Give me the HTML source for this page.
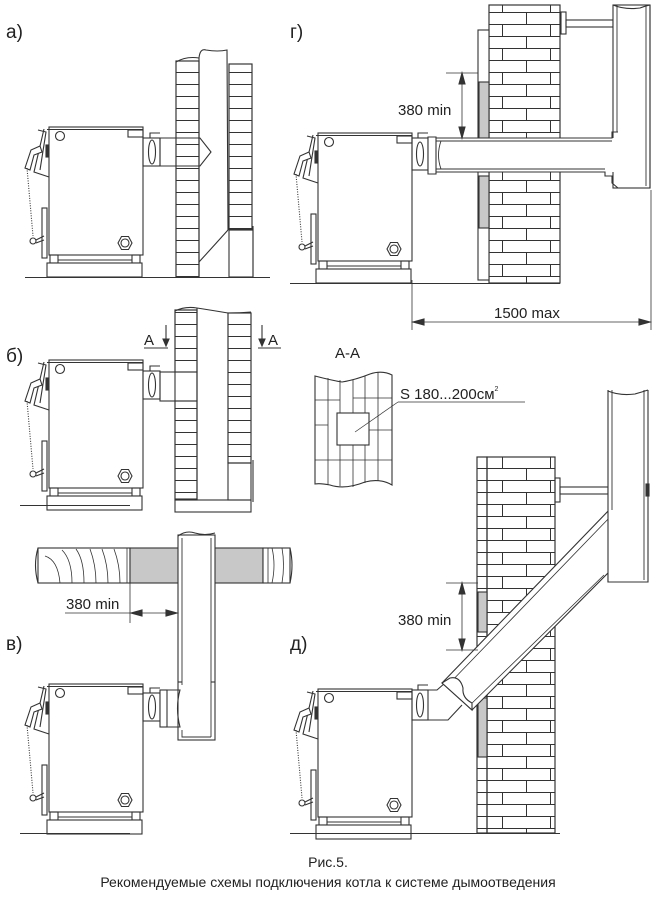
<!DOCTYPE html>
<html><head><meta charset="utf-8"><style>
html,body{margin:0;padding:0;background:#fff}
svg{display:block}
text{font-family:"Liberation Sans",Arial,sans-serif;fill:#222}
</style></head><body>
<svg width="656" height="900" viewBox="0 0 656 900" xmlns="http://www.w3.org/2000/svg">
<defs>
<pattern id="hb" x="0" y="0" width="30" height="12" patternUnits="userSpaceOnUse">
<line x1="0" y1="0.5" x2="30" y2="0.5" stroke="#333" stroke-width="1"/>
</pattern>
<pattern id="wb" x="0" y="0" width="48" height="24" patternUnits="userSpaceOnUse">
<line x1="0" y1="0.5" x2="48" y2="0.5" stroke="#333"/>
<line x1="0" y1="12.5" x2="48" y2="12.5" stroke="#333"/>
<line x1="22.5" y1="0" x2="22.5" y2="12" stroke="#333"/>
<line x1="46.5" y1="12" x2="46.5" y2="24" stroke="#333"/>
</pattern>
<g id="boiler" fill="none" stroke="#333" stroke-width="1.1">
<rect x="49" y="127" width="94" height="128" fill="#fff"/>
<line x1="47" y1="129.5" x2="143" y2="129.5"/>
<rect x="128" y="130" width="15" height="7"/>
<circle cx="60" cy="136" r="4.5"/>
<path d="M44 129 L34 172 L49 177"/>
<path d="M38 130 L46 132 L40 170"/>
<path d="M25 168 L31 150 L40 146 L42 152 L34 155 L30 170 Z" fill="#fff"/>
<rect x="46" y="145" width="2.5" height="12" fill="#333"/>
<line x1="27" y1="168" x2="33" y2="236" stroke-dasharray="1,1.5"/>
<rect x="42" y="208" width="5" height="50"/>
<circle cx="33" cy="241" r="3"/>
<path d="M36 240 L44 236 M36 243 L44 240"/>
<polygon points="118,243 121.5,236.5 128.5,236.5 132,243 128.5,249.5 121.5,249.5"/>
<circle cx="125" cy="243" r="4"/>
<rect x="50" y="255" width="8" height="8"/>
<rect x="132" y="255" width="8" height="8"/>
<line x1="58" y1="260" x2="132" y2="260"/>
<rect x="47" y="263" width="95" height="14" fill="#fff"/>
</g>
<g id="conn" fill="none" stroke="#333" stroke-width="1.1">
<rect x="143" y="138" width="17" height="28"/>
<ellipse cx="152" cy="152" rx="3.5" ry="12"/>
<path d="M150 138 L150 133 L160 133"/>
</g>
</defs>

<g fill="none" stroke="#333" stroke-width="1.1">
<!-- ===== a ===== -->
<use href="#boiler"/>
<line x1="25" y1="277.5" x2="270" y2="277.5"/>
<use href="#conn"/>
<path d="M160 138 L200 138 L211 152 L200 166 L160 166 Z"/>
<line x1="199" y1="140" x2="199" y2="164" stroke-width="0.6"/>
<rect x="176" y="61" width="23" height="216" fill="url(#hb)"/>
<rect x="176" y="61" width="23" height="216"/>
<path d="M176 62 Q186 56 199 58"/>
<path d="M199 58 L199 262 Q210 250 228 230"/>
<path d="M199 58 Q200 48 206 50 Q218 52 227 50 L228 230"/>
<rect x="229" y="64" width="23" height="166" fill="url(#hb)"/>
<rect x="229" y="64" width="23" height="166"/>
<rect x="229" y="229" width="24" height="48"/>
<line x1="253" y1="226" x2="253" y2="277"/>
<path d="M199 262 L199 277"/>

<!-- ===== б ===== -->
<g transform="translate(0,233)"><use href="#boiler"/><use href="#conn"/></g>
<line x1="20" y1="505.5" x2="130" y2="505.5"/>
<rect x="160" y="372" width="37" height="29"/>
<rect x="175" y="310" width="22" height="62" fill="url(#hb)"/>
<rect x="175" y="401" width="22" height="98" fill="url(#hb)"/>
<rect x="175" y="310" width="22" height="190"/>
<path d="M175 311 Q185 306 197 308 Q210 310 228 313 Q240 313 251 312"/>
<line x1="197" y1="308" x2="197" y2="500"/>
<rect x="228" y="313" width="23" height="150" fill="url(#hb)"/>
<rect x="228" y="313" width="23" height="150"/>
<rect x="228" y="463" width="23" height="37"/>
<line x1="253" y1="460" x2="253" y2="502"/>
<rect x="175" y="500" width="76" height="12"/>
<text x="144" y="345" font-size="15" stroke="none">A</text>
<line x1="144" y1="348" x2="168" y2="348"/>
<line x1="166" y1="325" x2="166" y2="345"/>
<polygon points="163,339 169,339 166,346" fill="#333"/>
<text x="268" y="345" font-size="15" stroke="none">A</text>
<line x1="258" y1="348" x2="281" y2="348"/>
<line x1="262" y1="325" x2="262" y2="345"/>
<polygon points="259,339 265,339 262,346" fill="#333"/>

<!-- A-A -->
<text x="335" y="358" font-size="15" stroke="none">A-A</text>
<path d="M315 376 Q330 380 342 382 Q355 380 370 374 Q382 370 392 375 L392 485 Q380 478 365 482 Q345 490 330 485 Q320 483 315 484 Z" fill="#fff"/>
<path d="M328 378 V485 M340 380 V486 M353 380 V487 M365 376 V483 M378 372 V481" stroke-width="0.8"/>
<path d="M315 400 H340 M353 398 H392 M315 425 H328 M365 430 H392 M315 460 H392 M340 440 H365" stroke-width="0.8"/>
<rect x="337" y="413" width="32" height="32" fill="#fff"/>
<line x1="355" y1="432" x2="398" y2="402" stroke-width="0.7"/>
<line x1="398" y1="402" x2="525" y2="402" stroke-width="0.7"/>
<text x="400" y="399" font-size="15" stroke="none">S 180...200см<tspan font-size="7" dy="-8">2</tspan></text>

<!-- ===== в ===== -->
<g transform="translate(0,557)"><use href="#boiler"/></g>
<line x1="20" y1="833.5" x2="130" y2="833.5"/>
<g transform="translate(0,555)"><use href="#conn"/></g>
<rect x="38" y="548" width="92" height="35" fill="#fff"/>
<path d="M38 548 Q33 565 38 583"/>
<path d="M60 583 Q58 560 45 556 M72 583 Q72 560 62 550 M84 583 Q84 560 76 549 M96 583 Q96 565 90 549 M108 583 Q108 565 102 549 M120 583 Q120 565 114 549 M127 583 V548" stroke-width="0.8"/>
<rect x="130" y="548" width="133" height="35" fill="#c8c8c8"/>
<rect x="263" y="548" width="27" height="35" fill="#fff"/>
<path d="M272 548 Q276 565 272 583 M282 548 Q285 565 282 583 M268 548 V583" stroke-width="0.8"/>
<path d="M290 548 Q294 565 290 583"/>
<rect x="178" y="535" width="37" height="205" fill="#fff"/>
<path d="M182 538 V685 M211 538 V737 M182 730 V737 L211 737" stroke-width="0.9"/>
<path d="M178 536 Q186 530 195 533 Q205 536 215 533"/>
<line x1="178" y1="682" x2="182" y2="682"/>
<line x1="211" y1="682" x2="215" y2="682"/>
<rect x="160" y="690" width="7" height="37" fill="#fff"/>
<path d="M167 690 L180 690 Q175 708 180 727 L167 727"/>
<line x1="130" y1="583" x2="130" y2="623" stroke-width="0.8"/>
<line x1="65" y1="613" x2="177" y2="613" stroke-width="0.8"/>
<polygon points="131,613 142,610 142,616" fill="#333"/>
<polygon points="177,613 166,610 166,616" fill="#333"/>
<text x="66" y="609" font-size="15" stroke="none">380 min</text>

<!-- ===== г ===== -->
<g transform="translate(269,6)"><use href="#boiler"/></g>
<line x1="290" y1="283.5" x2="560" y2="283.5"/>
<rect x="412" y="138" width="16" height="32"/>
<ellipse cx="420" cy="154" rx="3.5" ry="12"/>
<path d="M418 138 L418 133 L428 133"/>
<rect x="489" y="5" width="71" height="278" fill="url(#wb)"/>
<rect x="489" y="5" width="71" height="278"/>
<rect x="478" y="30" width="11" height="250" fill="#fff"/>
<rect x="479" y="82" width="10" height="56" fill="#c8c8c8"/>
<rect x="479" y="176" width="10" height="52" fill="#c8c8c8"/>
<rect x="561" y="12" width="5" height="22"/>
<rect x="566" y="20" width="47" height="7"/>
<rect x="613" y="5" width="37" height="183" fill="#fff"/>
<rect x="436" y="138" width="180" height="34" fill="#fff" stroke="none"/>
<path d="M428 137 L436 137 L436 174 L428 174 Z" fill="#fff"/>
<path d="M436 138 L612 138 L612 132 L618 132 M436 172 L605 172 L605 176 L612 176 L612 183 L618 188 L650 188 L650 5"/>
<path d="M436 141 L612 141 M436 169 L605 169" stroke-width="0.9"/>
<path d="M441 141 Q436 155 441 169" stroke-width="0.9"/>
<path d="M613 5 L613 132 M617 5 L617 132 M646 5 V186" stroke-width="0.9"/>
<path d="M613 5 Q625 10 640 8 Q645 6 650 5"/>
<line x1="446" y1="73" x2="478" y2="73" stroke-width="0.8"/>
<line x1="462" y1="73" x2="462" y2="138" stroke-width="0.8"/>
<polygon points="462,73 459,84 465,84" fill="#333"/>
<polygon points="462,138 459,127 465,127" fill="#333"/>
<text x="398" y="115" font-size="15" stroke="none">380 min</text>
<line x1="412" y1="280" x2="412" y2="330" stroke-width="0.8"/>
<line x1="651" y1="190" x2="651" y2="330" stroke-width="0.8"/>
<line x1="412" y1="322" x2="651" y2="322" stroke-width="0.8"/>
<polygon points="413,322 424,319 424,325" fill="#333"/>
<polygon points="650,322 639,319 639,325" fill="#333"/>
<text x="494" y="318" font-size="15" stroke="none">1500 max</text>

<!-- ===== д ===== -->
<g transform="translate(269,562)"><use href="#boiler"/></g>
<line x1="290" y1="833.5" x2="560" y2="833.5"/>
<rect x="412" y="690" width="16" height="30"/>
<ellipse cx="420" cy="705" rx="3.5" ry="12"/>
<path d="M418 690 L418 685 L428 685"/>
<path d="M428 690 L437 690 L445 683 M428 720 L448 720 L462 705" />
<rect x="487" y="457" width="68" height="376" fill="url(#wb)"/>
<rect x="487" y="457" width="68" height="376"/>
<rect x="477" y="457" width="10" height="376" fill="url(#hb)"/>
<rect x="477" y="457" width="10" height="376"/>
<rect x="478" y="592" width="9" height="40" fill="#c8c8c8"/>
<rect x="478" y="698" width="9" height="59" fill="#c8c8c8"/>
<rect x="555" y="478" width="5" height="24"/>
<rect x="560" y="487" width="48" height="7"/>
<polygon points="442,683 612,507 620,513 620,582 608,582 608,573 472,710" fill="#fff"/>
<path d="M446 687 L612 515 M468 707 L604 575" stroke-width="0.8"/>
<path d="M442 683 L450 678 Q460 676 463 688 Q462 698 472 703 L472 710 Z" fill="#fff"/>
<path d="M608 390 L608 582 L648 582 L648 390" fill="#fff"/>
<path d="M612 390 V510 M644 390 V580" stroke-width="0.9"/>
<path d="M608 391 Q620 396 635 394 Q642 392 648 390"/>
<rect x="646" y="484" width="3" height="12" fill="#333"/>
<line x1="446" y1="583" x2="478" y2="583" stroke-width="0.8"/>
<line x1="446" y1="650" x2="478" y2="650" stroke-width="0.8"/>
<line x1="462" y1="583" x2="462" y2="650" stroke-width="0.8"/>
<polygon points="462,583 459,594 465,594" fill="#333"/>
<polygon points="462,650 459,639 465,639" fill="#333"/>
<text x="398" y="625" font-size="15" stroke="none">380 min</text>
</g>

<!-- labels -->
<text x="6" y="38" font-size="19">а)</text>
<text x="6" y="362" font-size="19">б)</text>
<text x="6" y="650" font-size="19">в)</text>
<text x="290" y="38" font-size="19">г)</text>
<text x="290" y="650" font-size="19">д)</text>
<text x="328" y="867" font-size="14" text-anchor="middle">Рис.5.</text>
<text x="328" y="887" font-size="14" text-anchor="middle">Рекомендуемые схемы подключения котла к системе дымоотведения</text>
</svg>
</body></html>
